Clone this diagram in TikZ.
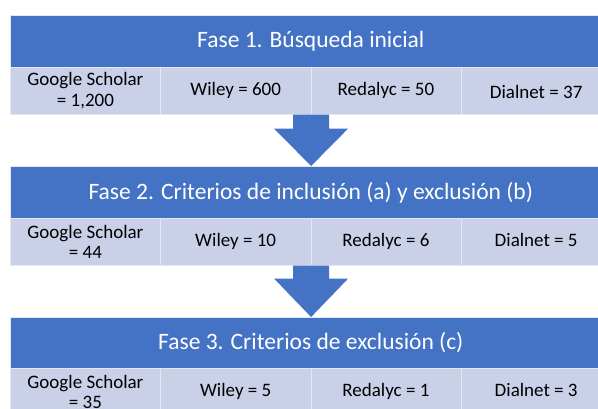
\documentclass[tikz,border=0pt]{standalone}
\usepackage{fontspec}
\setmainfont{Carlito}
\usetikzlibrary{calc}
\definecolor{hblue}{HTML}{4472C4}
\definecolor{cellc}{HTML}{C9D0E8}
\definecolor{edgec}{HTML}{E4E8F2}
\begin{document}
\begin{tikzpicture}[x=1pt,y=-1pt,
  hdr/.style={fill=hblue, draw=edgec, line width=0.6pt, minimum width=601pt, minimum height=52pt,
    text=white, font=\fontsize{23.5}{27}\selectfont, inner sep=0pt, anchor=north west},
  cell/.style={fill=cellc, draw=edgec, line width=0.6pt, minimum width=150.25pt, minimum height=47pt,
    text=black, font=\fontsize{19}{20.5}\selectfont, align=center, inner sep=0pt, anchor=north west},
  one/.style={cell, text height=13.5pt, text depth=4pt},
  blockarrow/.style={fill=hblue}]
\useasboundingbox (0,0) rectangle (598,408);
\clip (0,0) rectangle (598,408);
% Phase 1
\node[hdr] (h1) at (10,15) {Fase 1. Búsqueda inicial};
\node[cell] (g1) at (10,67) {Google Scholar\\= 1,200};
\node[one] (w1) at (160.25,67) {Wiley = 600};
\node[one] (r1) at (310.5,67) {Redalyc = 50};
\node[one] (d1) at (460.75,67) {\raisebox{-3pt}{Dialnet = 37}};
% Phase 2
\node[hdr] (h2) at (10,166) {Fase 2. Criterios de inclusión (a) y exclusión (b)};
\node[cell] (g2) at (10,218) {Google Scholar\\= 44};
\node[one] (w2) at (160.25,218) {Wiley = 10};
\node[one] (r2) at (310.5,218) {Redalyc = 6};
\node[one] (d2) at (460.75,218) {Dialnet = 5};
% Phase 3
\node[hdr, minimum height=51pt] (h3) at (10,317) {Fase 3. Criterios de exclusión (c)};
\node[cell] (g3) at (10,368) {Google Scholar\\= 35};
\node[one] (w3) at (160.25,368) {Wiley = 5};
\node[one] (r3) at (310.5,368) {Redalyc = 1};
\node[one] (d3) at (460.75,368) {Dialnet = 3};
% Block arrows
\fill[blockarrow] let \p1=(w1.south east), \p2=(h2.north) in
  (\x1-18pt,\y1) -- (\x1+18pt,\y1) -- (\x1+18pt,\y1-14pt) -- (\x1+37pt,\y1-14pt)
  -- (\x1,\y2) -- (\x1-37pt,\y1-14pt) -- (\x1-18pt,\y1-14pt) -- cycle;
\fill[blockarrow] let \p1=(w2.south east), \p2=(h3.north) in
  (\x1-18pt,\y1) -- (\x1+18pt,\y1) -- (\x1+18pt,\y1-13pt) -- (\x1+37pt,\y1-13pt)
  -- (\x1,\y2) -- (\x1-37pt,\y1-13pt) -- (\x1-18pt,\y1-13pt) -- cycle;
\end{tikzpicture}
\end{document}
